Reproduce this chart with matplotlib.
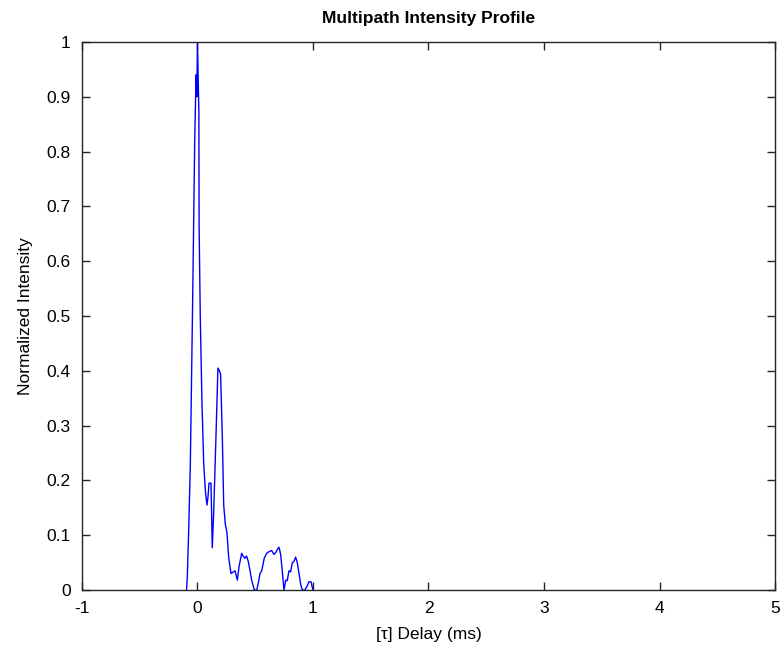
import matplotlib.pyplot as plt

# delay (ms) and normalized intensity
delay = [-0.095, -0.088, -0.076, -0.062, -0.042, -0.024, -0.012, -0.006, 0.0,
         0.012, 0.014, 0.024, 0.039, 0.054, 0.068, 0.082, 0.091, 0.100, 0.117,
         0.128, 0.140, 0.160, 0.177, 0.190, 0.200, 0.215, 0.227, 0.241, 0.255,
         0.270, 0.290, 0.310, 0.325, 0.345, 0.360, 0.383, 0.395, 0.411, 0.425,
         0.440, 0.455, 0.469, 0.492, 0.513, 0.526, 0.541, 0.556, 0.578, 0.599,
         0.619, 0.642, 0.662, 0.677, 0.691, 0.706, 0.720, 0.734, 0.749, 0.764,
         0.777, 0.792, 0.806, 0.821, 0.835, 0.850, 0.864, 0.879, 0.894, 0.907,
         0.931, 0.951, 0.965, 0.983, 0.994, 1.000]
intensity = [0.0, 0.024, 0.11, 0.228, 0.526, 0.82, 0.94, 0.90, 1.0,
             0.87, 0.666, 0.50, 0.34, 0.23, 0.182, 0.155, 0.17, 0.195, 0.195,
             0.077, 0.14, 0.28, 0.405, 0.40, 0.394, 0.28, 0.155, 0.12, 0.105,
             0.06, 0.03, 0.033, 0.035, 0.018, 0.043, 0.067, 0.062, 0.058, 0.062,
             0.052, 0.035, 0.018, 0.0, 0.0, 0.012, 0.03, 0.035, 0.058, 0.067,
             0.07, 0.072, 0.065, 0.068, 0.074, 0.078, 0.065, 0.035, 0.0, 0.018,
             0.017, 0.035, 0.033, 0.05, 0.052, 0.06, 0.05, 0.03, 0.01, 0.0,
             0.0, 0.008, 0.015, 0.015, 0.005, 0.0]

xticks = [-1, 0, 1, 2, 3, 4, 5]
yticks = [0, 0.1, 0.2, 0.3, 0.4, 0.5, 0.6, 0.7, 0.8, 0.9, 1]

plt.rcParams['font.family'] = ['Liberation Sans', 'DejaVu Sans']

fig = plt.figure(figsize=(7.83, 6.51), dpi=100)
ax = fig.add_axes([0.1047, 0.0937, 0.8851, 0.8418])
ax.plot(delay, intensity, color='blue', linewidth=1.0)

ax.set_xlim(-1, 5)
ax.set_ylim(0, 1)
ax.set_xticks(xticks)
ax.set_xticklabels([str(t) for t in xticks])
ax.set_yticks(yticks)
ax.set_yticklabels(['0', '0.1', '0.2', '0.3', '0.4', '0.5', '0.6', '0.7', '0.8', '0.9', '1'])
ax.tick_params(direction='in', top=True, right=True, labelsize=12.5, length=6, width=1,
               colors='#262626', labelcolor='black')
ax.tick_params(axis='x', pad=8)
ax.tick_params(axis='y', pad=8)
for s in ax.spines.values():
    s.set_color('#262626')
    s.set_linewidth(1.0)

ax.set_xlabel('[τ] Delay (ms)', fontsize=12.5, labelpad=8)
ax.set_ylabel('Normalized Intensity', fontsize=12.5, labelpad=10)
ax.set_title('Multipath Intensity Profile', fontsize=12.5, fontweight='bold', pad=14)

fig.savefig('out.png', dpi=100)
